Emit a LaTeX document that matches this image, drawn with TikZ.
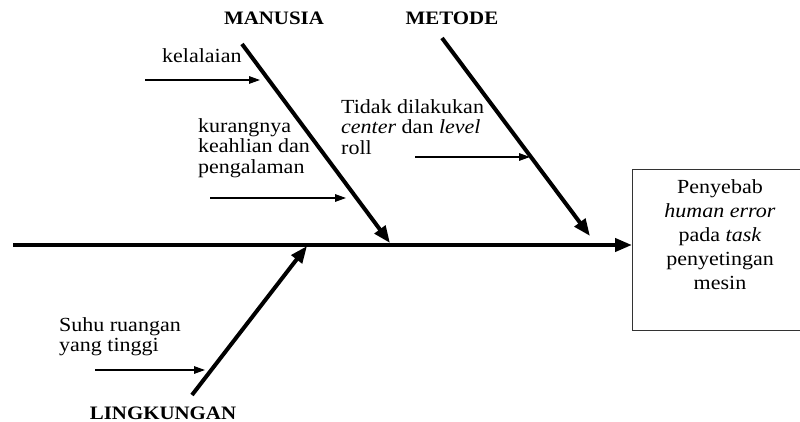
\documentclass[tikz,border=0pt]{standalone}
\usepackage{fontspec}
\setmainfont{Liberation Serif}[FakeStretch=1.1]
\usetikzlibrary{arrows.meta}
\begin{document}
\begin{tikzpicture}[x=1pt,y=-1pt,
  bone/.style={line width=4pt,-{Triangle[length=17pt,width=13pt]}},
  sub/.style={line width=1.4pt,-{Triangle[length=11pt,width=7.5pt]}},
  lbl/.style={font=\fontsize{20}{20.5}\selectfont,inner sep=0pt,align=left},
  cat/.style={font=\fontsize{19}{21}\selectfont\bfseries,inner sep=0pt},
  boxstyle/.style={draw=black!80,line width=1pt,inner sep=0pt,minimum width=172pt,minimum height=161pt}]
\useasboundingbox (0,0) rectangle (800,422);
% effect box
\node[boxstyle,anchor=north west] (effect) at (632,169) {};
\node[font=\fontsize{20}{24}\selectfont,align=center,inner sep=0pt,anchor=north] (efftext) at (720,179.5)
  {Penyebab\\ \textit{human error}\\ pada \textit{task}\\ penyetingan\\ mesin};
% spine
\coordinate (tail) at (13,245);
\draw[bone] (tail) -- (tail -| effect.west);
% category labels
\node[cat] (manusia) at (274,18) {MANUSIA};
\node[cat] (metode) at (452,18) {METODE};
\node[cat] (lingk) at (163,413) {LINGKUNGAN};
% bones
\coordinate (m1) at (242,44); \coordinate (m2) at (390,243);
\coordinate (t1) at (442,38); \coordinate (t2) at (590,236);
\coordinate (l1) at (192,395); \coordinate (l2) at (307,246);
\draw[bone] (m1) -- (m2);
\draw[bone] (t1) -- (t2);
\draw[bone] (l1) -- (l2);
% causes
\node[lbl,anchor=base west] (c1) at (162,63) {kelalaian};
\coordinate (a1s) at (145,80); \coordinate (a1e) at (260,80);
\draw[sub] (a1s) -- (a1e);
\node[lbl,anchor=north west] (c2) at (198,118.3) {kurangnya\\ keahlian dan\\ pengalaman};
\coordinate (a2s) at (210,198); \coordinate (a2e) at (346,198);
\draw[sub] (a2s) -- (a2e);
\node[lbl,anchor=north west] (c3) at (341,99.3) {Tidak dilakukan\\ \textit{center} dan \textit{level}\\ roll};
\coordinate (a3s) at (415,157); \coordinate (a3e) at (530,157);
\draw[sub] (a3s) -- (a3e);
\node[lbl,anchor=north west] (c4) at (59,317.3) {Suhu ruangan\\ yang tinggi};
\coordinate (a4s) at (95,370); \coordinate (a4e) at (205,370);
\draw[sub] (a4s) -- (a4e);
\end{tikzpicture}
\end{document}
